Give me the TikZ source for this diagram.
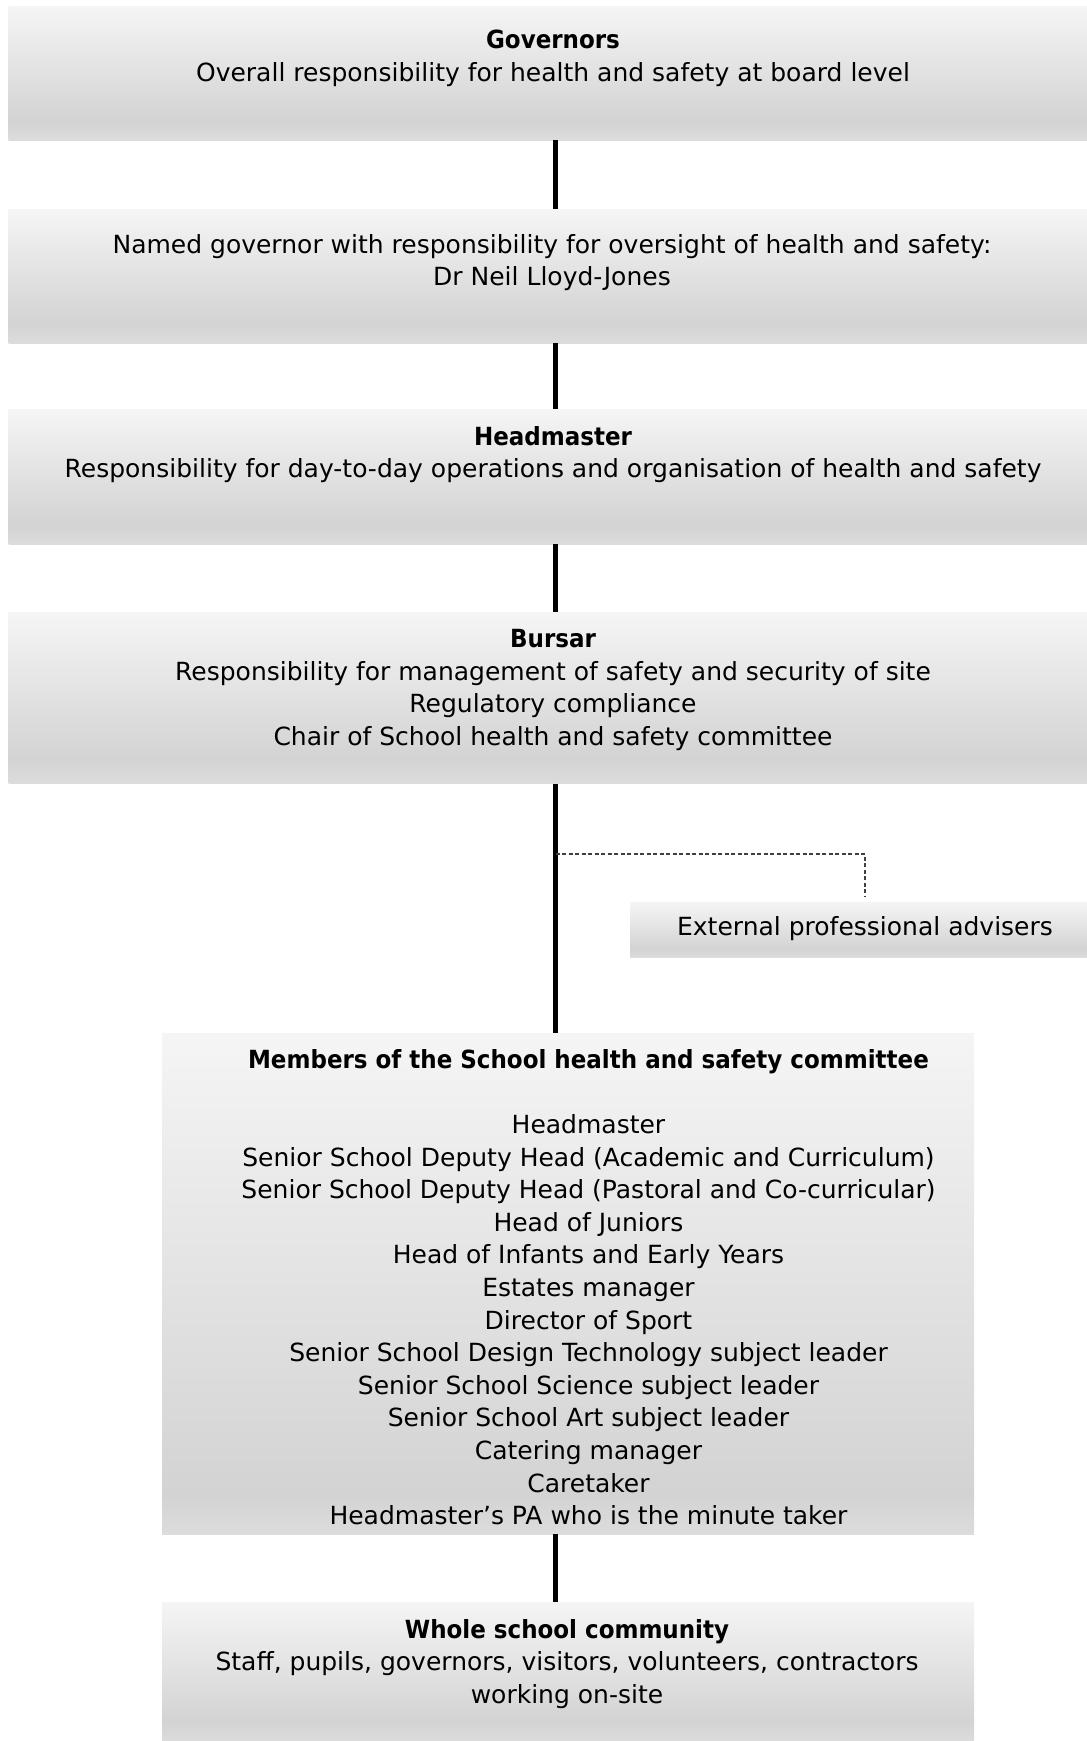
\documentclass[tikz,border=0pt]{standalone}
\usepackage{fontspec}
\setmainfont{DejaVu Sans}[BoldFeatures={FakeStretch=0.92}]

% panel colours: light at the top, darkest near the bottom edge
\definecolor{shTop}{HTML}{F5F5F5}
\definecolor{shDark}{HTML}{D3D3D3}
\definecolor{shBot}{HTML}{DCDCDC}
\pgfdeclareverticalshading{panelshade}{100bp}{%
  color(0bp)=(shBot); color(25bp)=(shBot); color(32bp)=(shDark);
  color(75bp)=(shTop); color(100bp)=(shTop)}
\pgfdeclareverticalshading{tallshade}{100bp}{%
  color(0bp)=(shBot); color(25bp)=(shBot); color(29bp)=(shDark);
  color(75bp)=(shTop); color(100bp)=(shTop)}

\begin{document}
\begin{tikzpicture}[x=1pt, y=-1pt,
  panel/.style={rectangle, inner sep=0pt, draw=none, shading=panelshade},
  tallpanel/.style={panel, shading=tallshade},
  txt/.style={align=center, inner sep=0pt, anchor=north, text=black,
    font=\fontsize{25}{32.6}\selectfont},
  link/.style={line width=5pt, black},
  advise/.style={line width=1.2pt, black!75, dash pattern=on 4pt off 2.5pt}]

\useasboundingbox (0,0) rectangle (1087,1741);

% ---- panels ----
\node[panel, minimum width=1079pt, minimum height=134pt] (gov)     at (548, 73)   {};
\node[panel, minimum width=1079pt, minimum height=134pt] (named)   at (548, 276)  {};
\node[panel, minimum width=1079pt, minimum height=135pt] (head)    at (548, 476.5){};
\node[panel, minimum width=1079pt, minimum height=171pt] (bursar)  at (548, 698)  {};
\node[panel, minimum width=457pt,  minimum height=55pt]  (ext)     at (858.5, 929.5) {};
\node[tallpanel, minimum width=812pt, minimum height=501pt] (members) at (568, 1283.5) {};
\node[panel, minimum width=812pt, minimum height=139pt] (whole)   at (568, 1671.5) {};

% ---- texts ----
\node[txt] (govtxt) at (553, 30)
  {\textbf{Governors}\\Overall responsibility for health and safety at board level};
\node[txt] (namedtxt) at (552, 234)
  {Named governor with responsibility for oversight of health and safety:\\Dr Neil Lloyd-Jones};
\node[txt] (headtxt) at (553, 426)
  {\textbf{Headmaster}\\Responsibility for day-to-day operations and organisation of health and safety};
\node[txt] (bursartxt) at (553, 629)
  {\textbf{Bursar}\\Responsibility for management of safety and security of site\\
   Regulatory compliance\\Chair of School health and safety committee};
\node[txt, anchor=center] (exttxt) at (865, 929) {External professional advisers};
\node[txt] (memberstxt) at (588.5, 1049)
  {\textbf{Members of the School health and safety committee}\\[32.6pt]
   Headmaster\\
   Senior School Deputy Head (Academic and Curriculum)\\
   Senior School Deputy Head (Pastoral and Co-curricular)\\
   Head of Juniors\\
   Head of Infants and Early Years\\
   Estates manager\\
   Director of Sport\\
   Senior School Design Technology subject leader\\
   Senior School Science subject leader\\
   Senior School Art subject leader\\
   Catering manager\\
   Caretaker\\
   Headmaster’s PA who is the minute taker};
\node[txt] (wholetxt) at (567, 1619)
  {\textbf{Whole school community}\\Staff, pupils, governors, visitors, volunteers, contractors\\working on-site};

% ---- connectors ----
\coordinate (spine) at (555.5, 0);
\coordinate (tap)   at (555.5, 854);
\coordinate (drop)  at (865, 897);
\draw[link] (gov.south -| spine)     -- (named.north -| spine);
\draw[link] (named.south -| spine)   -- (head.north -| spine);
\draw[link] (head.south -| spine)    -- (bursar.north -| spine);
\draw[link] (bursar.south -| spine)  -- (members.north -| spine);
\draw[link] (members.south -| spine) -- (whole.north -| spine);
\draw[advise] (tap) -| (drop);
\end{tikzpicture}
\end{document}
